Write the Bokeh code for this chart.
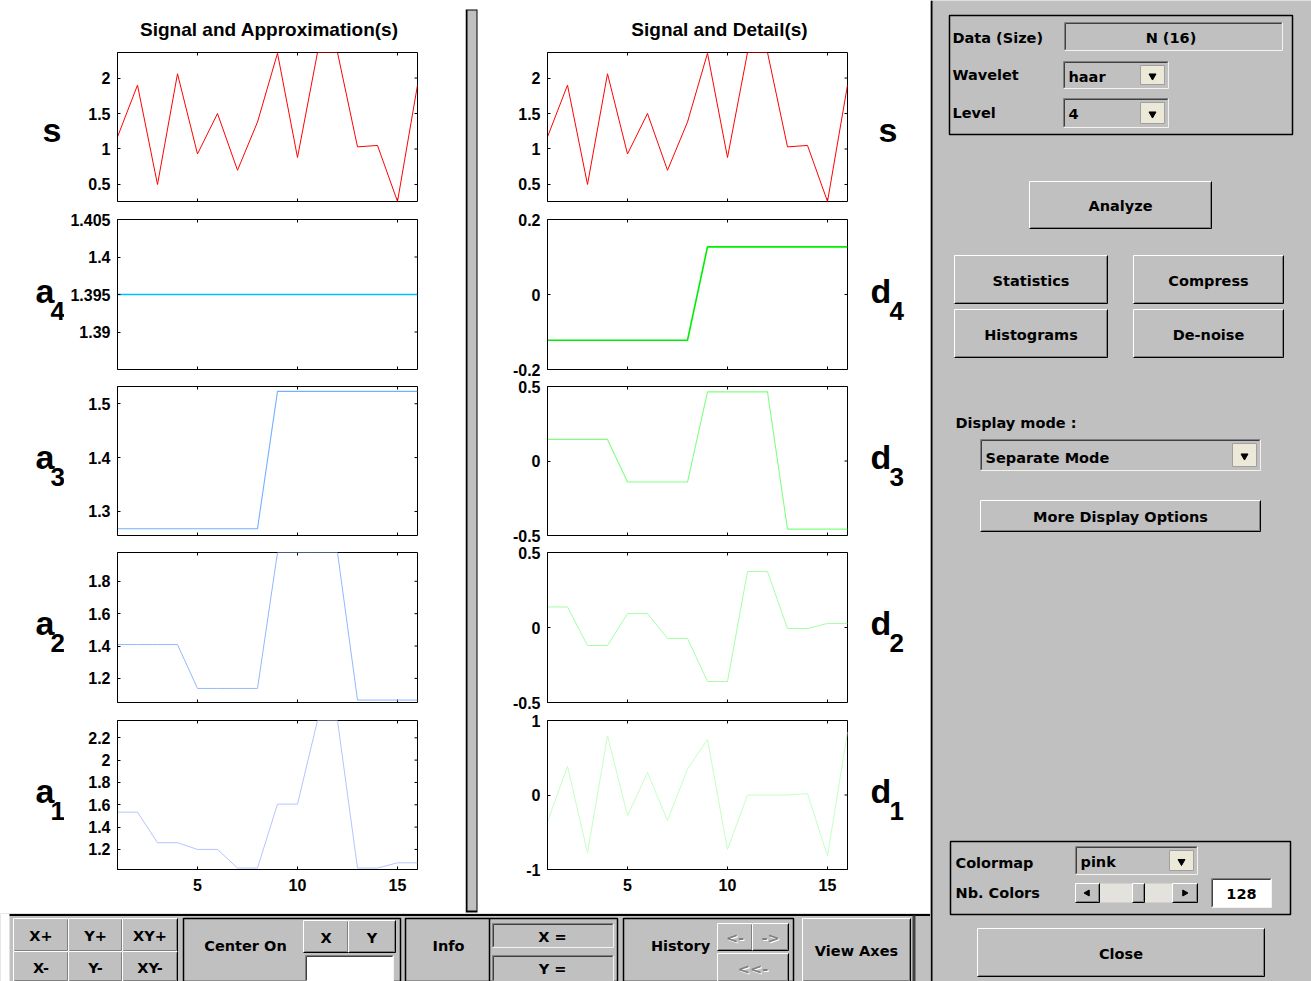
import math
from bokeh.plotting import figure
from bokeh.models import Range1d, FixedTicker
from bokeh.layouts import row, column
from bokeh.embed import file_html
from bokeh.resources import INLINE
from bokeh.core.properties import value

# ---------------- data ----------------
n = [1, 2, 3, 4, 5, 6, 7, 8, 9, 10, 11, 12, 13, 14, 15, 16]

sig_s = [1.17, 1.90, 0.50, 2.06, 0.93, 1.50, 0.70, 1.38, 2.35, 0.88, 2.36, 2.36, 1.03, 1.05, 0.26, 1.90]
app_a4 = [1.395, 1.395, 1.395, 1.395, 1.395, 1.395, 1.395, 1.395,
          1.395, 1.395, 1.395, 1.395, 1.395, 1.395, 1.395, 1.395]
app_a3 = [1.268, 1.268, 1.268, 1.268, 1.268, 1.268, 1.268, 1.268,
          1.523, 1.523, 1.523, 1.523, 1.523, 1.523, 1.523, 1.523]
app_a2 = [1.409, 1.409, 1.409, 1.409, 1.138, 1.138, 1.138, 1.138,
          1.978, 1.978, 1.978, 1.978, 1.066, 1.066, 1.066, 1.066]
app_a1 = [1.534, 1.534, 1.26, 1.26, 1.20, 1.20, 1.033, 1.033,
          1.606, 1.606, 2.355, 2.355, 1.033, 1.033, 1.08, 1.08]
det_d4 = [-0.122, -0.122, -0.122, -0.122, -0.122, -0.122, -0.122, -0.122,
          0.127, 0.127, 0.127, 0.127, 0.127, 0.127, 0.127, 0.127]
det_d3 = [0.145, 0.145, 0.145, 0.145, -0.141, -0.141, -0.141, -0.141,
          0.464, 0.464, 0.464, 0.464, -0.457, -0.457, -0.457, -0.457]
det_d2 = [0.137, 0.137, -0.12, -0.12, 0.093, 0.093, -0.073, -0.073,
          -0.36, -0.36, 0.373, 0.373, -0.007, -0.007, 0.027, 0.027]
det_d1 = [-0.36, 0.384, -0.776, 0.795, -0.276, 0.30, -0.343, 0.348,
          0.746, -0.731, 0.0, 0.0, 0.0, 0.018, -0.817, 0.844]

x_ticks = [5, 10, 15]
x_tick_labels = ["5", "10", "15"]

s_ticks, s_labels = [0.5, 1, 1.5, 2], ["0.5", "1", "1.5", "2"]
a4_ticks, a4_labels = [1.39, 1.395, 1.4, 1.405], ["1.39", "1.395", "1.4", "1.405"]
a3_ticks, a3_labels = [1.3, 1.4, 1.5], ["1.3", "1.4", "1.5"]
a2_ticks, a2_labels = [1.2, 1.4, 1.6, 1.8], ["1.2", "1.4", "1.6", "1.8"]
a1_ticks, a1_labels = [1.2, 1.4, 1.6, 1.8, 2, 2.2], ["1.2", "1.4", "1.6", "1.8", "2", "2.2"]
d4_ticks, d4_labels = [-0.2, 0, 0.2], ["-0.2", "0", "0.2"]
d3_ticks, d3_labels = [-0.5, 0, 0.5], ["-0.5", "0", "0.5"]
d2_ticks, d2_labels = [-0.5, 0, 0.5], ["-0.5", "0", "0.5"]
d1_ticks, d1_labels = [-1, 0, 1], ["-1", "0", "1"]

ylim_s, ylim_a4, ylim_a3, ylim_a2, ylim_a1 = (0.26, 2.36), (1.385, 1.405), (1.2554, 1.532), (1.051, 1.978), (1.02, 2.355)
ylim_d4, ylim_d3, ylim_d2, ylim_d1 = (-0.2, 0.2), (-0.5, 0.5), (-0.5, 0.5), (-1, 1)

title_left = "Signal and Approximation(s)"
title_mid = "Signal and Detail(s)"
row_names = ["s", "a4", "a3", "a2", "a1"]

# ---------------- styles ----------------
TICK_FONT = "Liberation Sans"
GUI_FONT = "DejaVu Sans"
GUI_SIZE = "14.5px"
GRAY = "#c0c0c0"
BASE_SHIFT = 0.37  # renderer places 'alphabetic' text this many em lower than the nominal baseline

# (figure height, top border, bottom border) for the five plot rows
ROWS = [(166, 8, 9), (167, 9, 8), (167, 9, 9), (167, 8, 9), (202, 9, 44)]
# baselines of the row letters / subscripts (screen px)
LETTER_BASE = [142, 303, 469, 635, 803]
SUB_BASE = [None, 320, 486, 652, 820]
LETTER_SIZE, SUB_SIZE, TITLE_SIZE = 34, 26, 19


def style_axis(ax, ticks, labels, standoff):
    ax.ticker = FixedTicker(ticks=ticks, minor_ticks=[])
    ax.major_tick_in = 3
    ax.major_tick_out = 0
    ax.minor_tick_line_color = None
    ax.axis_line_color = "black"
    ax.major_tick_line_color = "black"
    ax.major_label_overrides = {t: l for t, l in zip(ticks, labels)}
    ax.major_label_text_font = TICK_FONT
    ax.major_label_text_font_style = "bold"
    ax.major_label_text_font_size = "16px"
    ax.major_label_text_color = "black"
    ax.major_label_standoff = standoff


def make_plot(width, bl, br, rowspec, ylim, yt, yl, yvals, color, lw, show_x):
    h, bt, bb = rowspec
    p = figure(width=width, height=h, x_range=Range1d(1, 16), y_range=Range1d(*ylim),
               min_border_left=bl, min_border_right=br, min_border_top=bt, min_border_bottom=bb,
               output_backend="svg", toolbar_location=None, tools="")
    p.grid.visible = False
    p.outline_line_color = "black"
    p.background_fill_color = "white"
    p.border_fill_color = "white"
    style_axis(p.yaxis[0], yt, yl, 7)
    if show_x:
        style_axis(p.xaxis[0], x_ticks, x_tick_labels, 9)
    else:
        p.xaxis.visible = False
        p.scatter(x=x_ticks, y=[ylim[0]] * len(x_ticks), marker="dash", angle=math.pi / 2,
                  size=6, line_color="black", line_width=1)
    # inward ticks on the top and right edges (half of each dash is clipped by the frame)
    p.scatter(x=x_ticks, y=[ylim[1]] * len(x_ticks), marker="dash", angle=math.pi / 2,
              size=6, line_color="black", line_width=1)
    p.scatter(x=[16] * len(yt), y=yt, marker="dash", size=6, line_color="black", line_width=1)
    p.line(n, yvals, line_color=color, line_width=lw)
    return p


left_specs = [
    (sig_s, "#ff0000", 1.0, ylim_s, s_ticks, s_labels),
    (app_a4, "#00bfff", 1.6, ylim_a4, a4_ticks, a4_labels),
    (app_a3, "#72b2ff", 1.1, ylim_a3, a3_ticks, a3_labels),
    (app_a2, "#92b8ff", 1.0, ylim_a2, a2_ticks, a2_labels),
    (app_a1, "#b4c4ff", 1.0, ylim_a1, a1_ticks, a1_labels),
]
mid_specs = [
    (sig_s, "#ff0000", 1.0, ylim_s, s_ticks, s_labels),
    (det_d4, "#00ee00", 1.6, ylim_d4, d4_ticks, d4_labels),
    (det_d3, "#80ff80", 1.1, ylim_d3, d3_ticks, d3_labels),
    (det_d2, "#a4ffa4", 1.0, ylim_d2, d2_ticks, d2_labels),
    (det_d1, "#c4ffc4", 1.0, ylim_d1, d1_ticks, d1_labels),
]

LAB_W = 64
# left plots: screen x 64..465, frame 117..417 ; middle plots: 478..860, frame 547..847
left_figs = [make_plot(465 - LAB_W, 117 - LAB_W, 48, ROWS[i], s[3], s[4], s[5], s[0], s[1], s[2], i == 4)
             for i, s in enumerate(left_specs)]
mid_figs = [make_plot(382, 69, 13, ROWS[i], s[3], s[4], s[5], s[0], s[1], s[2], i == 4)
            for i, s in enumerate(mid_specs)]


# ---------------- canvases (screen-pixel coordinates) ----------------
def canvas(w, h, x0, y0, bg):
    c = figure(width=w, height=h, x_range=Range1d(x0, x0 + w), y_range=Range1d(y0 + h, y0),
               min_border=0, output_backend="svg", toolbar_location=None, tools="",
               x_axis_location=None, y_axis_location=None)
    c.grid.visible = False
    c.outline_line_color = None
    c.background_fill_color = bg
    c.border_fill_color = bg
    return c


def big_text(c, items, size, align="left"):
    c.text(x=[t[1] for t in items], y=[t[2] - BASE_SHIFT * size for t in items], text=[t[0] for t in items],
           text_align=align, text_baseline="alphabetic", text_font=value(TICK_FONT),
           text_font_style="bold", text_font_size="%dpx" % size, text_color="black")


# row labels
lab_l = canvas(LAB_W, 913, 0, 0, "white")
lab_r = canvas(70, 913, 860, 0, "white")
letters_l, subs_l, letters_r, subs_r = [], [], [], []
for i, nm in enumerate(row_names):
    if len(nm) == 1:
        letters_l.append((nm, 42, LETTER_BASE[i]))
        letters_r.append((nm, 878, LETTER_BASE[i]))
    else:
        letters_l.append(("a", 35, LETTER_BASE[i]))
        subs_l.append((nm[1], 50, SUB_BASE[i]))
        letters_r.append(("d", 870, LETTER_BASE[i]))
        subs_r.append((nm[1], 889, SUB_BASE[i]))
big_text(lab_l, letters_l, LETTER_SIZE)
big_text(lab_l, subs_l, SUB_SIZE)
big_text(lab_r, letters_r, LETTER_SIZE)
big_text(lab_r, subs_r, SUB_SIZE)

# titles
tit_l = canvas(465 - LAB_W, 44, LAB_W, 0, "white")
big_text(tit_l, [(title_left, 267, 36)], TITLE_SIZE, "center")
tit_m = canvas(382, 44, 478, 0, "white")
big_text(tit_m, [(title_mid, 697, 36)], TITLE_SIZE, "center")


def draw_raised(c, boxes):
    for (x0, y0, x1, y1) in boxes:
        c.quad(left=x0, right=x1, top=y0, bottom=y1, fill_color=GRAY, line_color=None)
        c.segment(x0=[x0, x0, x0, x1, x0 + 1, x1 - 1], y0=[y0, y0, y1, y0, y1 - 1, y0 + 1],
                  x1=[x1, x0, x1, x1, x1 - 1, x1 - 1], y1=[y0, y1, y1, y1, y1 - 1, y1 - 1],
                  line_color=["white", "white", "black", "black", "#808080", "#808080"], line_width=1)


def draw_sunken(c, boxes, fill):
    for (x0, y0, x1, y1) in boxes:
        c.quad(left=x0, right=x1, top=y0, bottom=y1, fill_color=fill, line_color=None)
        c.segment(x0=[x0, x0, x0, x1, x0 + 1, x0 + 1], y0=[y0, y0, y1, y0, y0 + 1, y0 + 1],
                  x1=[x1, x0, x1, x1, x1 - 1, x0 + 1], y1=[y0, y1, y1, y1, y0 + 1, y1 - 1],
                  line_color=["#808080", "#808080", "#f4f2ea", "#f4f2ea", "#404040", "#404040"], line_width=1)


def draw_group(c, boxes):
    for (x0, y0, x1, y1) in boxes:
        c.quad(left=x0, right=x1, top=y0, bottom=y1, fill_color=None, line_color="black", line_width=1.5)


def draw_text(c, items, align="center", color="black"):
    if not items:
        return
    c.text(x=[t[1] for t in items], y=[t[2] for t in items], text=[t[0] for t in items],
           text_align=align, text_baseline="middle", text_font=value(GUI_FONT),
           text_font_style="bold", text_font_size=GUI_SIZE, text_color=color)


def draw_popup(c, boxes):
    for (x0, y0, x1, y1) in boxes:
        draw_sunken(c, [(x0, y0, x1, y1)], GRAY)
        bx0, bx1, by0, by1 = x1 - 28, x1 - 4, y0 + 4, y1 - 4
        c.quad(left=bx0, right=bx1, top=by0, bottom=by1, fill_color="#ece9d8", line_color="#a0a0a0")
        c.scatter(x=[(bx0 + bx1) / 2], y=[(by0 + by1) / 2 + 1], marker="inverted_triangle",
                  size=7, fill_color="black", line_color="black")


# right panel: x 930..1311, y 0..981
rp = canvas(381, 981, 930, 0, GRAY)
rp.quad(left=930, right=932, top=0, bottom=981, fill_color="black", line_color=None)
draw_group(rp, [(949, 15, 1292, 134), (950, 841, 1290, 914)])
draw_sunken(rp, [(1064, 22, 1282, 50)], GRAY)
draw_popup(rp, [(1063, 61, 1168, 88), (1063, 98, 1168, 127), (980, 439, 1260, 470), (1075, 846, 1197, 874)])
rp_buttons = [(1029, 181, 1211, 228, "Analyze"), (954, 255, 1107, 303, "Statistics"),
              (1133, 255, 1283, 303, "Compress"), (954, 309, 1107, 357, "Histograms"),
              (1133, 309, 1283, 357, "De-noise"), (980, 500, 1260, 531, "More Display Options"),
              (977, 928, 1264, 976, "Close")]
draw_raised(rp, [b[:4] for b in rp_buttons])
draw_text(rp, [(b[4], (b[0] + b[2]) / 2, (b[1] + b[3]) / 2 + 1) for b in rp_buttons])
# slider
rp.quad(left=1075, right=1197, top=883, bottom=902, fill_color="#e4e2dc", line_color=None)
draw_raised(rp, [(1075, 883, 1099, 902), (1172, 883, 1197, 902), (1132, 883, 1144, 902)])
rp.scatter(x=[1087], y=[892.5], marker="triangle", angle=math.pi / 2, size=6, fill_color="black", line_color="black")
rp.scatter(x=[1184], y=[892.5], marker="triangle", angle=-math.pi / 2, size=6, fill_color="black", line_color="black")
draw_sunken(rp, [(1211, 878, 1271, 907)], "white")
draw_text(rp, [("N  (16)", 1173, 37), ("128", 1241, 893)])
draw_text(rp, [("haar", 1068, 76), ("4", 1068, 113), ("Separate Mode", 985, 457), ("pink", 1080, 861)], "left")
draw_text(rp, [("Data  (Size)", 952, 37), ("Wavelet", 952, 74), ("Level", 952, 112),
               ("Display mode :", 955, 422), ("Colormap", 955, 862), ("Nb. Colors", 955, 892)], "left")

# separator: x 465..478, y 0..913
sep = canvas(13, 913, 465, 0, "white")
sep.quad(left=465, right=477, top=9, bottom=912, fill_color="black", line_color=None)
sep.quad(left=467, right=476, top=10, bottom=910, fill_color=GRAY, line_color=None)

# bottom toolbar: x 0..930, y 913..981
tb = canvas(930, 68, 0, 913, GRAY)
tb.quad(left=0, right=9, top=913, bottom=981, fill_color="white", line_color=None)
tb.quad(left=9, right=930, top=913.5, bottom=915.5, fill_color="black", line_color=None)
tb_buttons = [(13, 918, 68, 951, "X+"), (68, 918, 122, 951, "Y+"), (122, 918, 177, 951, "XY+"),
              (13, 951, 68, 981, "X-"), (68, 951, 122, 981, "Y-"), (122, 951, 177, 981, "XY-"),
              (303, 920, 348, 952, "X"), (348, 920, 395, 952, "Y"), (802, 918, 910, 981, "View Axes")]
tb_disabled = [(717, 923, 752, 950, "<-"), (752, 923, 788, 950, "->"), (717, 953, 788, 981, "<<-")]
draw_group(tb, [(183, 918, 400, 981), (405, 918, 617, 981), (623, 918, 793, 981)])
tb.segment(x0=[489], y0=[918], x1=[489], y1=[981], line_color="black", line_width=1.5)
tb.quad(left=912, right=915, top=915, bottom=981, fill_color="#404040", line_color=None)
draw_raised(tb, [b[:4] for b in tb_buttons] + [b[:4] for b in tb_disabled])
draw_sunken(tb, [(305, 955, 393, 981)], "white")
draw_sunken(tb, [(492, 923, 613, 947), (492, 955, 613, 981)], GRAY)
draw_text(tb, [(b[4], (b[0] + b[2]) / 2, (b[1] + b[3]) / 2 + 1) for b in tb_buttons])
draw_text(tb, [(b[4], (b[0] + b[2]) / 2 + 1, (b[1] + b[3]) / 2 + 2) for b in tb_disabled], color="white")
draw_text(tb, [(b[4], (b[0] + b[2]) / 2, (b[1] + b[3]) / 2 + 1) for b in tb_disabled], color="#808080")
draw_text(tb, [("Center On", 245, 945), ("Info", 448, 945), ("History", 680, 945),
               ("X =", 552, 936), ("Y =", 552, 968)])

left_block = row(lab_l, column(tit_l, *left_figs))
mid_block = row(column(tit_m, *mid_figs), lab_r)
layout = row(column(row(left_block, sep, mid_block), tb), rp)

open("out.html", "w").write(file_html(layout, INLINE))
